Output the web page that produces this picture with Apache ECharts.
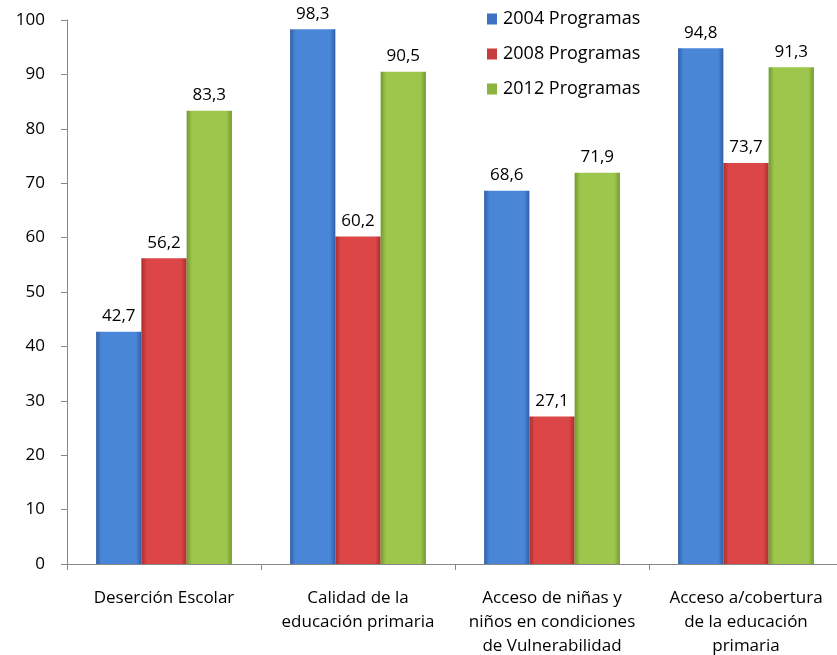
<!DOCTYPE html>
<html><head><meta charset="utf-8">
<script src="https://cdn.jsdelivr.net/npm/echarts@6/dist/echarts.min.js"></script>
<style>html,body{margin:0;padding:0;background:#fff}#c{width:837px;height:655px}</style>
</head><body><div id="c"></div>
<script>
const categories = ["Deserción Escolar", "Calidad de la\neducación primaria", "Acceso de niñas y\nniños en condiciones\nde Vulnerabilidad", "Acceso a/cobertura\nde la educación\nprimaria"];
const seriesNames = ["2004 Programas", "2008 Programas", "2012 Programas"];
const values2004 = [42.7, 98.3, 68.6, 94.8];
const values2008 = [56.2, 60.2, 27.1, 73.7];
const values2012 = [83.3, 90.5, 71.9, 91.3];
const yTicks = [0, 10, 20, 30, 40, 50, 60, 70, 80, 90, 100];

const FONT = "Open Sans";
function grad(edge, mid) {
  return new echarts.graphic.LinearGradient(0, 0, 1, 0, [
    {offset: 0, color: edge}, {offset: 0.12, color: mid}, {offset: 0.88, color: mid}, {offset: 1, color: edge}
  ]);
}
const styles = [
  {edge: "#2f5fa8", mid: "#4a86d8", legend: "#3b72c4"},
  {edge: "#a82e2e", mid: "#dc4646", legend: "#c83c3c"},
  {edge: "#6f9a2e", mid: "#9ec54c", legend: "#8cb43e"}
];
const data = [values2004, values2008, values2012];

const chart = echarts.init(document.getElementById('c'));
chart.setOption({
  animation: false,
  textStyle: {fontFamily: FONT},
  legend: {
    orient: 'vertical', left: 482, top: 5, itemWidth: 10, itemHeight: 11, itemGap: 17,
    icon: 'rect',
    textStyle: {fontFamily: FONT, fontSize: 18, color: '#000', padding: [0, 0, 0, 1]},
    data: seriesNames.map((n, i) => ({name: n, itemStyle: {color: styles[i].legend}}))
  },
  grid: {left: 67, right: -6, top: 20, bottom: 91, containLabel: false, outerBoundsMode: 'none'},
  xAxis: {
    type: 'category', data: categories,
    axisLine: {lineStyle: {color: '#888'}},
    axisTick: {show: true, length: 6, lineStyle: {color: '#888'}},
    axisLabel: {color: '#000', fontSize: 17, fontFamily: FONT, margin: 22, lineHeight: 24, interval: 0}
  },
  yAxis: {
    type: 'value', min: 0, max: 100, interval: 10,
    axisLine: {show: true, lineStyle: {color: '#888'}},
    axisTick: {show: true, length: 6, lineStyle: {color: '#888'}},
    splitLine: {show: false},
    axisLabel: {color: '#000', fontSize: 17, fontFamily: FONT, margin: 22}
  },
  series: seriesNames.map((n, i) => ({
    name: n, type: 'bar', data: data[i],
    barGap: '0%', barCategoryGap: '30%',
    itemStyle: {color: grad(styles[i].edge, styles[i].mid)},
    label: {show: true, position: 'top', distance: 7, color: '#000', fontSize: 17, fontFamily: FONT,
      formatter: p => p.value.toFixed(1).replace('.', ',')}
  }))
});
</script></body></html>
